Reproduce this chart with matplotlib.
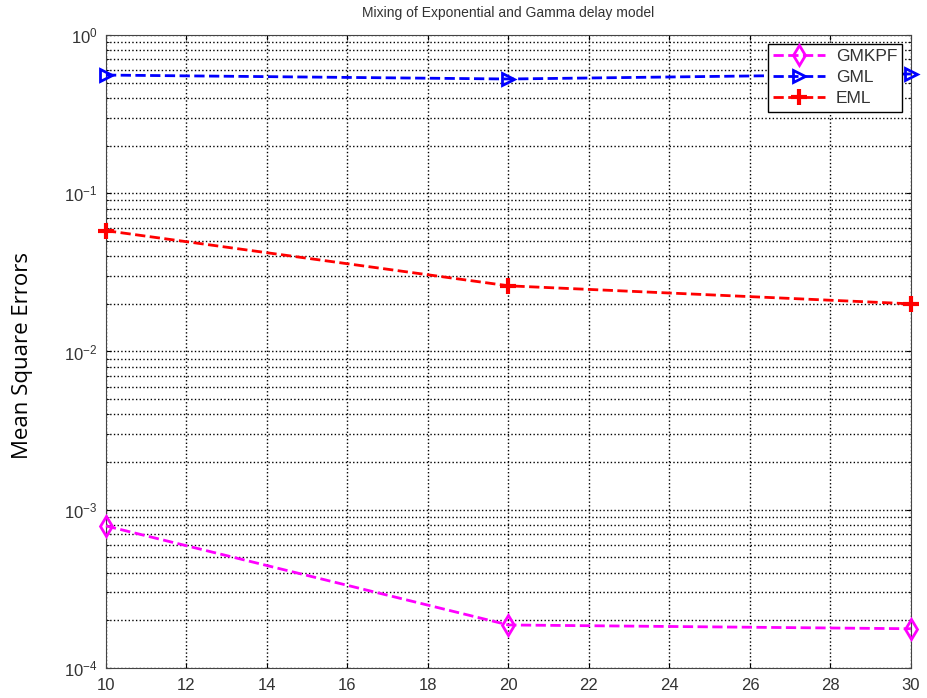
import numpy as np
import matplotlib.pyplot as plt

# values
snr = [10, 20, 30]
gmkpf = [7.9e-4, 1.87e-4, 1.77e-4]
gml = [0.558, 0.527, 0.567]
eml = [0.058, 0.026, 0.020]

plt.rcParams['font.family'] = ['Liberation Sans', 'DejaVu Sans']

fig = plt.figure(figsize=(9.27, 6.98), dpi=100)
ax = fig.add_axes([0.1143, 0.043, 0.8684, 0.9069])

ax.semilogy(snr, gmkpf, '--', color='magenta', marker='d', markersize=10,
            markerfacecolor='none', markeredgewidth=2, linewidth=2,
            label='GMKPF', clip_on=False, zorder=5)
ax.semilogy(snr, gml, '--', color='blue', marker='>', markersize=9,
            markerfacecolor='none', markeredgewidth=2, linewidth=2,
            label='GML', clip_on=False, zorder=5)
ax.semilogy(snr, eml, '--', color='red', marker='+', markersize=12,
            markeredgewidth=3, linewidth=2, label='EML', clip_on=False, zorder=5)

ax.set_xlim(10, 30)
ax.set_ylim(1e-4, 1)
ax.set_xticks(np.arange(10, 31, 2))
ax.grid(True, which='major', linestyle=':', color='black', linewidth=1)
ax.grid(True, which='minor', axis='y', linestyle=':', color='black', linewidth=1)
ax.tick_params(axis='both', which='both', direction='in', labelsize=12,
               top=True, right=True, labelcolor='#333333')
ax.tick_params(axis='y', pad=6)
ax.tick_params(axis='x', pad=7)
for s in ax.spines.values():
    s.set_color('#444444')

ax.set_title('Mixing of Exponential and Gamma delay model', fontsize=10,
             pad=13, color='#333333')
fig.text(0.024, 0.49, 'Mean Square Errors', rotation=90, fontsize=16,
         family='Open Sans', va='center', ha='center')

leg = ax.legend(loc='upper right', fontsize=12.5, fancybox=False,
                edgecolor='black', framealpha=1, handlelength=3.0,
                borderaxespad=0.5, labelspacing=0.35, borderpad=0.3,
                handletextpad=0.6)
leg.get_frame().set_linewidth(1)
for t in leg.get_texts():
    t.set_color('#333333')

fig.savefig('out.png', dpi=100)
